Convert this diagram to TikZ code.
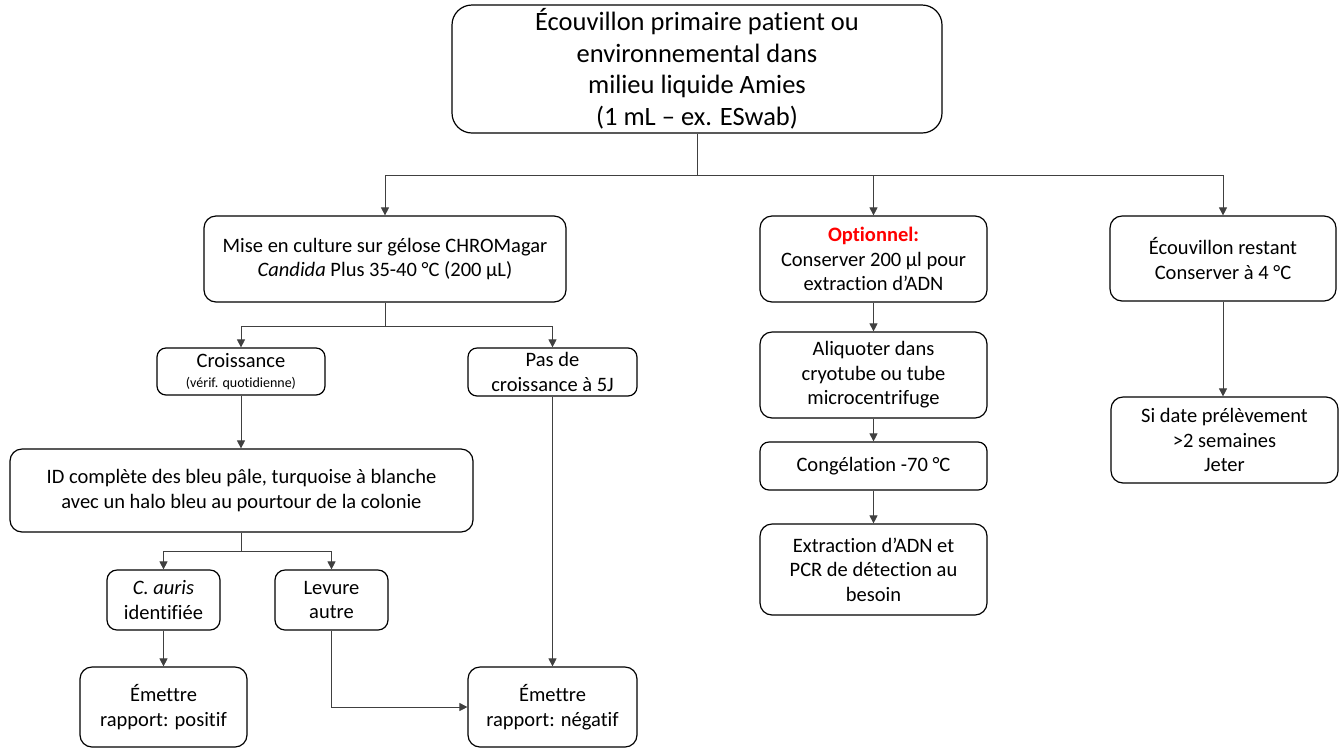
\documentclass[tikz,border=0pt]{standalone}
\usepackage{fontspec}
\setmainfont{Carlito}[Ligatures=CommonOff]
\usetikzlibrary{arrows.meta}
\begin{document}
\begin{tikzpicture}[x=1pt,y=-1pt,
  box/.style={draw=black, line width=1.2pt, rounded corners=12pt, align=center, inner sep=2pt,
     font=\fontsize{20.5}{24.5}\selectfont, text=black},
  conn/.style={draw=black!75, line width=0.8pt},
  arr/.style={conn, -{Triangle[length=8pt,width=8pt]}}
]
\useasboundingbox (0,0) rectangle (1340,748);
\node[box, rounded corners=20pt, minimum width=490pt, minimum height=128pt, font=\fontsize{26.5}{31.5}\selectfont] (top) at (697,69)
  {Écouvillon primaire patient ou\\environnemental dans\\milieu liquide Amies\\(1 mL – ex. ESwab)};
\node[box, minimum width=362pt, minimum height=86pt] (cult) at (385,259)
  {Mise en culture sur gélose CHROMagar\\\textit{Candida} Plus 35-40 °C (200 µL)};
\node[box, minimum width=227pt, minimum height=86pt] (opt) at (873.5,259)
  {\textcolor{red}{\textbf{Optionnel:}}\\Conserver 200 µl pour\\extraction d’ADN};
\node[box, minimum width=226pt, minimum height=85pt] (rest) at (1223,258.5)
  {Écouvillon restant\\Conserver à 4 °C};
\node[box, minimum width=168pt, minimum height=47pt, rounded corners=9pt] (crois) at (241,371.5)
  {Croissance\\[-5pt]{\fontsize{14}{16}\selectfont (vérif. quotidienne)}};
\node[box, minimum width=169pt, minimum height=48pt, rounded corners=9pt] (pas) at (552.5,372)
  {Pas de\\croissance à 5J};
\node[box, minimum width=463pt, minimum height=83pt] (id) at (241.5,490.5)
  {ID complète des bleu pâle, turquoise à blanche\\avec un halo bleu au pourtour de la colonie};
\node[box, minimum width=113pt, minimum height=60pt, rounded corners=10pt] (caur) at (163.5,600)
  {\textit{C. auris}\\identifiée};
\node[box, minimum width=113pt, minimum height=60pt, rounded corners=10pt] (lev) at (331.5,600)
  {Levure\\autre};
\node[box, minimum width=167pt, minimum height=80pt] (pos) at (163.5,707)
  {Émettre\\rapport: positif};
\node[box, minimum width=169pt, minimum height=80pt] (neg) at (552.5,707)
  {Émettre\\rapport: négatif};
\node[box, minimum width=227pt, minimum height=86pt] (aliq) at (873.5,375)
  {Aliquoter dans\\cryotube ou tube\\microcentrifuge};
\node[box, minimum width=227pt, minimum height=48pt, rounded corners=9pt] (cong) at (873.5,466)
  {Congélation -70 °C};
\node[box, minimum width=227pt, minimum height=91pt] (extr) at (873.5,569.5)
  {Extraction d’ADN et\\PCR de détection au\\besoin};
\node[box, minimum width=227pt, minimum height=86pt] (date) at (1224.5,440)
  {Si date prélèvement\\>2 semaines\\Jeter};

% connectors
\coordinate (j1) at (697,175);
\draw[conn] (top.south) -- (j1);
\draw[arr] (j1) -| (cult.north);
\draw[arr] (j1) -| (opt.north);
\draw[arr] (j1) -| (rest.north);

\coordinate (j2) at (385,326);
\draw[conn] (cult.south) -- (j2);
\draw[arr] (j2) -| (crois.north);
\draw[arr] (j2) -| (pas.north);

\draw[arr] (crois.south) -- (id.north -| crois.south);
\coordinate (j3) at (241.5,551);
\draw[conn] (id.south) -- (j3);
\draw[arr] (j3) -| (caur.north);
\draw[arr] (j3) -| (lev.north);

\draw[arr] (caur.south) -- (pos.north);
\draw[arr] (lev.south) |- (neg.west);
\draw[arr] (pas.south) -- (neg.north);

\draw[arr] (opt.south) -- (aliq.north);
\draw[arr] (aliq.south) -- (cong.north);
\draw[arr] (cong.south) -- (extr.north);
\draw[arr] (rest.south) -- (rest.south |- date.north);
\end{tikzpicture}
\end{document}
